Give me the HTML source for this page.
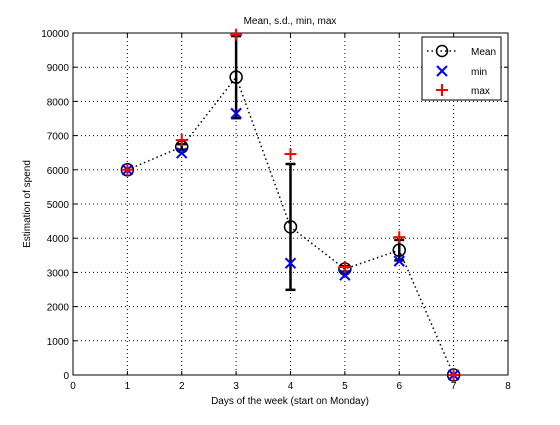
<!DOCTYPE html>
<html><head><meta charset="utf-8"><style>
body{margin:0;background:#fff;font-family:"Liberation Sans",sans-serif}
svg text{font-family:"Liberation Sans",sans-serif;font-size:10px}
</style></head><body>
<svg id="c" width="560" height="420" xmlns="http://www.w3.org/2000/svg"></svg>
<script>
const days=[1,2,3,4,5,6,7];
const meanVals=[6000,6670,8710,4330,3100,3650,0];
const sdVals=[0,80,1200,1840,80,300,0];
const minVals=[6000,6490,7650,3270,2920,3330,0];
const maxVals=[6000,6870,9950,6460,3160,4030,0];
const xTicks=[0,1,2,3,4,5,6,7,8];
const yTicks=[0,1000,2000,3000,4000,5000,6000,7000,8000,9000,10000];
const L=73,R=508,T=33,B=375;
const sx=v=>L+(v-0)/8*(R-L), sy=v=>B-v/10000*(B-T);
const svg=document.getElementById('c');
const NS='http://www.w3.org/2000/svg';
function mk(tag,attrs,parent){const e=document.createElementNS(NS,tag);for(const k in attrs)e.setAttribute(k,attrs[k]);(parent||svg).appendChild(e);return e;}
let e;
e=mk('rect',{x:L,y:T,width:R-L,height:B-T,fill:'#fff',stroke:'#000','stroke-width':1});


xTicks.forEach(t=>{const x=sx(t);
 if(t>0&&t<8){e=mk('line',{x1:x,x2:x,y1:T,y2:B,stroke:'#000','stroke-dasharray':'1,3','stroke-width':1});}
 mk('line',{x1:x,x2:x,y1:B,y2:B-4,stroke:'#000'});mk('line',{x1:x,x2:x,y1:T,y2:T+4,stroke:'#000'});
 e=mk('text',{x:x,y:B+14,'text-anchor':'middle'});e.textContent=t;});
yTicks.forEach(t=>{const y=sy(t);
 if(t>0&&t<10000){e=mk('line',{x1:L,x2:R,y1:y,y2:y,stroke:'#000','stroke-dasharray':'1,3','stroke-width':1});}
 mk('line',{x1:L,x2:L+4,y1:y,y2:y,stroke:'#000'});mk('line',{x1:R,x2:R-4,y1:y,y2:y,stroke:'#000'});
 e=mk('text',{x:L-4,y:y+4,'text-anchor':'end'});e.textContent=t;});
e=mk('text',{x:290,y:24,'text-anchor':'middle'});e.textContent='Mean, s.d., min, max';
e=mk('text',{x:290,y:404,'text-anchor':'middle'});e.textContent='Days of the week (start on Monday)';
e=mk('text',{x:30,y:204,'text-anchor':'middle',transform:'rotate(-90 30 204)'});e.textContent='Estimation of spend';
// mean line
e=mk('polyline',{points:days.map((d,i)=>sx(d)+','+sy(meanVals[i])).join(' '),fill:'none',stroke:'#000','stroke-dasharray':'1.5,3','stroke-width':1.5});

// error bars
days.forEach((d,i)=>{if(sdVals[i]<=0)return;const x=sx(d),y1=sy(meanVals[i]+sdVals[i]),y2=sy(meanVals[i]-sdVals[i]);
 const g=mk('g',{stroke:'#000','stroke-width':2.5});
 
 mk('line',{x1:x,x2:x,y1:y1,y2:y2},g);mk('line',{x1:x-5,x2:x+5,y1:y1,y2:y1},g);mk('line',{x1:x-5,x2:x+5,y1:y2,y2:y2},g);});
// mean markers
days.forEach((d,i)=>{e=mk('circle',{cx:sx(d),cy:sy(meanVals[i]),r:6,fill:'none',stroke:'#000','stroke-width':1.5});});
function xMark(x,y,s,p){const g=mk('g',{stroke:'#0000ff','stroke-width':2},p);mk('line',{x1:x-s,y1:y-s,x2:x+s,y2:y+s},g);mk('line',{x1:x-s,y1:y+s,x2:x+s,y2:y-s},g);return g;}
function pMark(x,y,s,p){const g=mk('g',{stroke:'#ff0000','stroke-width':2},p);mk('line',{x1:x-s,y1:y,x2:x+s,y2:y},g);mk('line',{x1:x,y1:y-s,x2:x,y2:y+s},g);return g;}
days.forEach((d,i)=>{e=xMark(sx(d),sy(minVals[i]),5);});
days.forEach((d,i)=>{e=pMark(sx(d),sy(maxVals[i]),6);});
// legend
const lg=mk('g',{});

mk('rect',{x:422,y:37,width:79,height:63,fill:'#fff',stroke:'#000'},lg);
mk('line',{x1:427,x2:457,y1:51,y2:51,stroke:'#000','stroke-dasharray':'1.5,3','stroke-width':1.5},lg);
mk('circle',{cx:442,cy:51,r:5.5,fill:'none',stroke:'#000','stroke-width':1.5},lg);
xMark(442,71,5,lg);pMark(442,90,6,lg);
[['Mean',55],['min',75],['max',94]].forEach(([t,y])=>{e=mk('text',{x:471,y:y},lg);e.textContent=t;});
</script>
</body></html>
